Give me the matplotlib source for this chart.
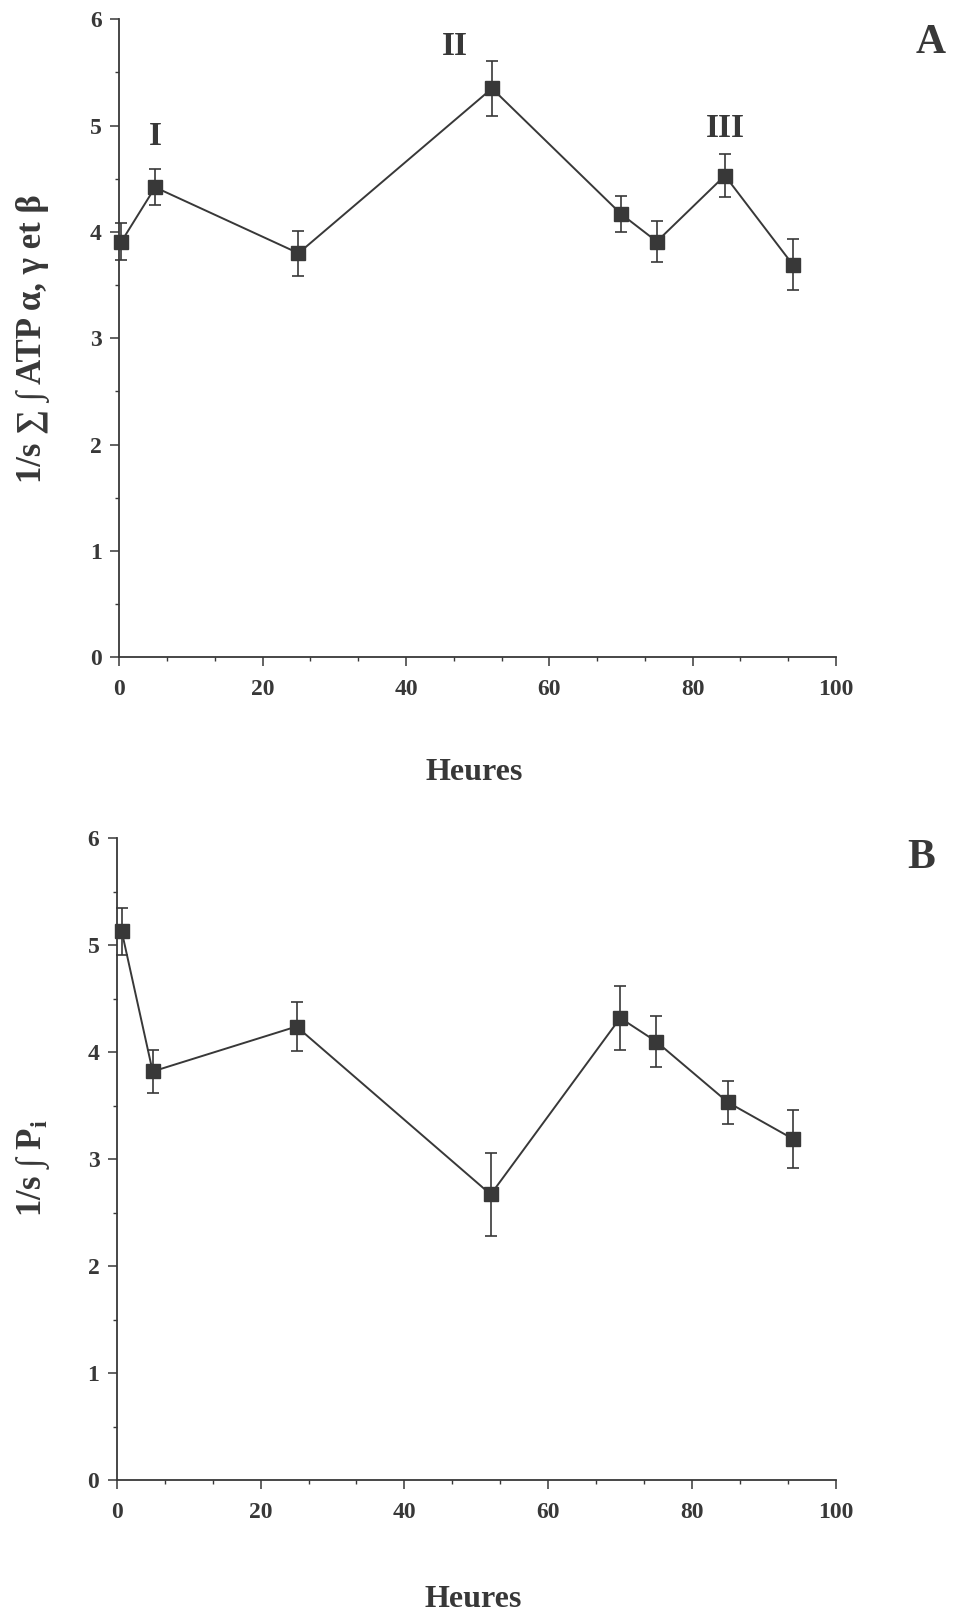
import matplotlib
matplotlib.use("Agg")
import matplotlib.pyplot as plt
from matplotlib.ticker import MultipleLocator

plt.rcParams['font.family'] = ['Liberation Serif', 'DejaVu Serif']
plt.rcParams['mathtext.fontset'] = 'custom'
plt.rcParams['mathtext.rm'] = 'Liberation Serif:bold'
plt.rcParams['mathtext.bf'] = 'Liberation Serif:bold'

ink = '#383838'

# panel A : ATP
hours_a = [0.3, 5, 25, 52, 70, 75, 84.5, 94]
atp = [3.91, 4.42, 3.80, 5.35, 4.17, 3.91, 4.53, 3.69]
atp_err = [0.17, 0.17, 0.21, 0.26, 0.17, 0.19, 0.20, 0.24]
peak_labels = ['I', 'II', 'III']
peak_x = [5, 46.8, 84.5]
peak_y = [4.90, 5.74, 4.97]

# panel B : Pi
hours_b = [0.7, 5, 25, 52, 70, 75, 85, 94]
pi = [5.13, 3.82, 4.24, 2.67, 4.32, 4.10, 3.53, 3.19]
pi_err = [0.22, 0.20, 0.23, 0.39, 0.30, 0.24, 0.20, 0.27]

x_ticks = [0, 20, 40, 60, 80, 100]
y_ticks = [0, 1, 2, 3, 4, 5, 6]

W, H = 955, 1614
fig = plt.figure(figsize=(W / 100, H / 100), dpi=100)
ax_a = fig.add_axes([119.3 / W, 1 - 657.3 / H, (836 - 119.3) / W, (657.3 - 19.3) / H])
ax_b = fig.add_axes([116.7 / W, 1 - 1480 / H, (836 - 116.7) / W, (1480 - 838.3) / H])


def style(ax):
    ax.set_xlim(0, 100)
    ax.set_ylim(0, 6)
    ax.set_xticks(x_ticks)
    ax.set_yticks(y_ticks)
    ax.xaxis.set_minor_locator(MultipleLocator(20 / 3))
    ax.yaxis.set_minor_locator(MultipleLocator(0.5))
    for s in ['top', 'right']:
        ax.spines[s].set_visible(False)
    for s in ['left', 'bottom']:
        ax.spines[s].set_color(ink)
        ax.spines[s].set_linewidth(1.3)
    ax.tick_params(which='major', length=6.5, width=1.1, color=ink, labelsize=17, labelcolor=ink)
    ax.tick_params(which='minor', length=3, width=1.0, color=ink)
    ax.tick_params(axis='x', which='major', pad=9)
    ax.tick_params(axis='y', which='major', pad=6)
    for lab in ax.get_xticklabels() + ax.get_yticklabels():
        lab.set_fontweight('bold')


def draw(ax, x, y, err):
    ax.errorbar(x, y, yerr=err, color=ink, lw=1.4, marker='s', ms=9.5,
                mfc=ink, mec=ink, ecolor=ink, elinewidth=1.2, capsize=4,
                capthick=1.2, clip_on=False, zorder=3)


style(ax_a)
draw(ax_a, hours_a, atp, atp_err)
for lab, px, py in zip(peak_labels, peak_x, peak_y):
    ax_a.text(px, py, lab, fontsize=24, fontweight='bold', color=ink, ha='center', va='center')
ax_a.text(113.2, 5.78, 'A', fontsize=30, fontweight='bold', color=ink, ha='center', va='center',
          clip_on=False)
ax_a.set_xlabel('Heures', fontsize=23, fontweight='bold', color=ink, va='center')
ax_a.xaxis.set_label_coords(0.495, -0.180)
ax_a.set_ylabel('1/s ∑ ∫ ATP α, γ et β', fontsize=25, fontweight='bold', color=ink, va='center')
ax_a.yaxis.set_label_coords((33 - 119.3) / 716.7, 0.5)

style(ax_b)
draw(ax_b, hours_b, pi, pi_err)
ax_b.text(111.9, 5.82, 'B', fontsize=30, fontweight='bold', color=ink, ha='center', va='center',
          clip_on=False)
ax_b.set_xlabel('Heures', fontsize=23, fontweight='bold', color=ink, va='center')
ax_b.xaxis.set_label_coords(0.495, -0.1855)
ax_b.set_ylabel('1/s ∫ P$_{\\mathrm{i}}$', fontsize=25, fontweight='bold', color=ink, va='center')
ax_b.yaxis.set_label_coords((33 - 116.7) / 719.3, 0.486)

fig.savefig('out.png', dpi=100)
